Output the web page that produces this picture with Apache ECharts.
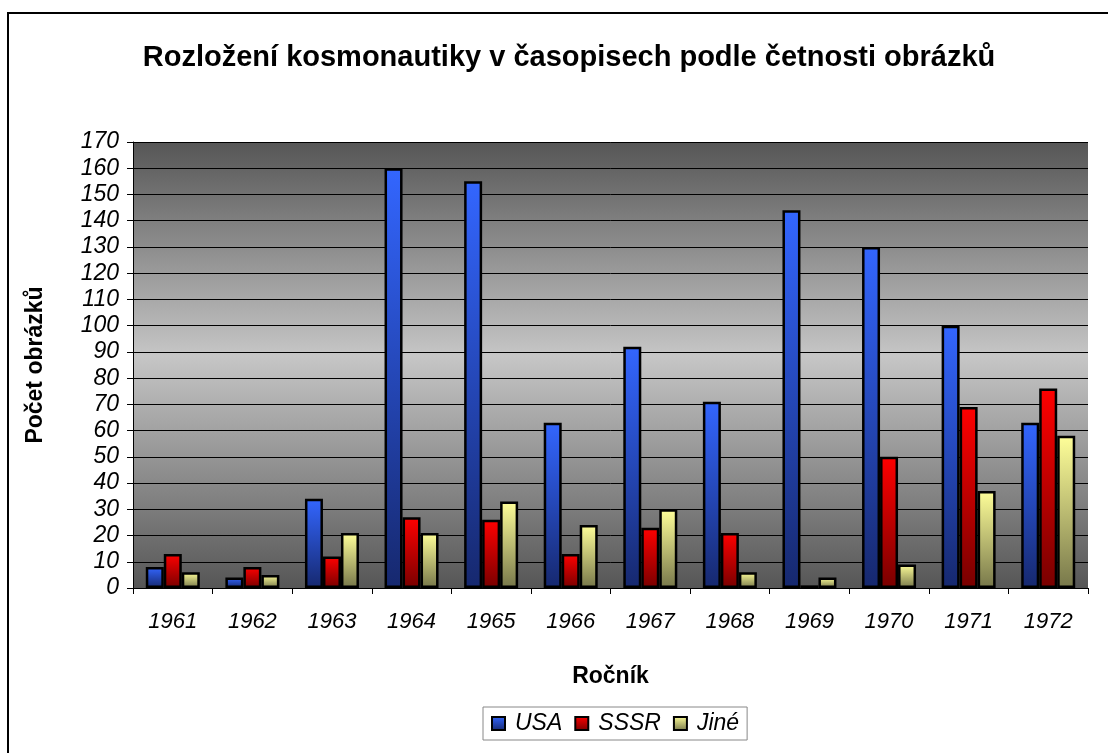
<!DOCTYPE html>
<html>
<head>
<meta charset="utf-8">
<script src="https://cdn.jsdelivr.net/npm/echarts@6/dist/echarts.min.js"></script>
<style>
  html, body { margin: 0; padding: 0; background: #fff; }
  #chart { width: 1108px; height: 753px; position: relative; }
  #frame { position: absolute; left: 7px; top: 12px; width: 1200px; height: 800px; border: 2px solid #000; box-sizing: border-box; pointer-events: none; }
</style>
</head>
<body>
<div id="chart"></div>
<div id="frame"></div>
<script>
const years = ['1961', '1962', '1963', '1964', '1965', '1966', '1967', '1968', '1969', '1970', '1971', '1972']
const usa = [8, 4, 34, 160, 155, 63, 92, 71, 144, 130, 100, 63]
const sssr = [13, 8, 12, 27, 26, 13, 23, 21, 1, 50, 69, 76]
const jine = [6, 5, 21, 21, 33, 24, 30, 6, 4, 9, 37, 58]

const font = 'Liberation Sans, Arial, sans-serif'

function grad(top, bottom) {
  return new echarts.graphic.LinearGradient(0, 0, 0, 1, [
    { offset: 0, color: top },
    { offset: 1, color: bottom },
  ])
}

function barSeries(name, data, top, bottom) {
  return {
    name: name,
    type: 'bar',
    data: data,
    barWidth: 18,
    barGap: '0%',
    itemStyle: {
      color: grad(top, bottom),
      borderColor: '#000',
      borderWidth: 2.5,
    },
  }
}

const mychart = echarts.init(document.getElementById('chart'))
mychart.setOption({
  animation: false,
  title: {
    text: 'Rozložení kosmonautiky v časopisech podle četnosti obrázků',
    left: 564,
    top: 38,
    textAlign: 'center',
    textStyle: { fontFamily: font, fontSize: 29, fontWeight: 'bold', color: '#000' },
  },
  grid: {
    left: 133,
    right: 20,
    top: 142,
    bottom: 165,
    show: true,
    borderWidth: 0,
    backgroundColor: new echarts.graphic.LinearGradient(0, 0, 0, 1, [
      { offset: 0, color: '#565656' },
      { offset: 0.48, color: '#c6c6c6' },
      { offset: 1, color: '#565656' },
    ]),
  },
  legend: {
    left: 483,
    top: 707,
    padding: [5, 8, 5, 8],
    borderColor: '#888',
    borderWidth: 1,
    itemWidth: 13,
    itemHeight: 13,
    itemGap: 12,
    icon: 'rect',
    textStyle: { fontFamily: font, fontSize: 23, fontStyle: 'italic', color: '#000', padding: [0, 0, 0, 5] },
    data: ['USA', 'SSSR', 'Jiné'],
  },
  xAxis: {
    type: 'category',
    data: years,
    name: 'Ročník',
    nameLocation: 'middle',
    nameGap: 77,
    nameTextStyle: { fontFamily: font, fontSize: 23, fontWeight: 'bold', color: '#000' },
    axisLine: { lineStyle: { color: '#000', width: 1 } },
    axisTick: { show: true, length: 6, lineStyle: { color: '#000' } },
    axisLabel: { fontFamily: font, fontSize: 22, fontStyle: 'italic', color: '#000', margin: 23 },
    boundaryGap: true,
  },
  yAxis: {
    type: 'value',
    min: 0,
    max: 170,
    interval: 10,
    name: 'Počet obrázků',
    nameLocation: 'middle',
    nameGap: 86,
    nameTextStyle: { fontFamily: font, fontSize: 23, fontWeight: 'bold', color: '#000' },
    axisLine: { show: true, lineStyle: { color: '#000', width: 1 } },
    axisTick: { show: true, length: 6, lineStyle: { color: '#000' } },
    axisLabel: { fontFamily: font, fontSize: 23, fontStyle: 'italic', color: '#000', margin: 14 },
    splitLine: { show: true, lineStyle: { color: '#000', width: 1 } },
  },
  series: [
    barSeries('USA', usa, '#3366ff', '#16286e'),
    barSeries('SSSR', sssr, '#ff0000', '#780000'),
    barSeries('Jiné', jine, '#ffff99', '#77774a'),
  ],
})
</script>
</body>
</html>
